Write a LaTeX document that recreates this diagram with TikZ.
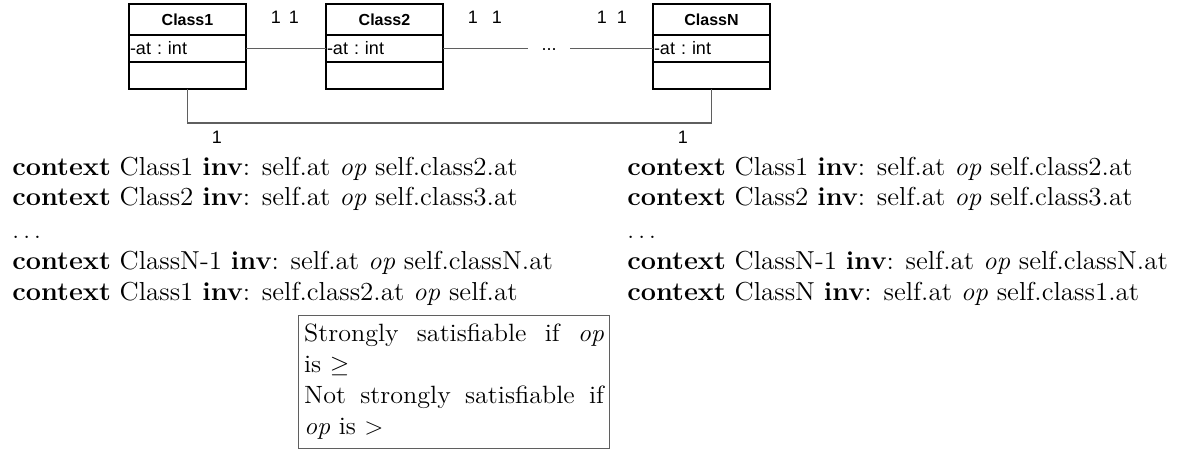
\documentclass[tikz,border=0pt]{standalone}
\usepackage{fontspec}
\newfontfamily\arialf{Liberation Sans}
\newcommand{\wx}[1]{\scalebox{1.04}[1]{#1}}
\newcommand{\wn}[1]{\scalebox{1.045}[1]{#1}}
\definecolor{lgray}{RGB}{95,95,95}
\tikzset{
  umlpart/.style={draw=black, line width=0.6pt, minimum width=58.5pt, inner sep=0pt, anchor=north west, outer sep=0pt},
  hdr/.style={umlpart, minimum height=15.5pt, font=\arialf\fontsize{8}{9.6}\selectfont\bfseries},
  attr/.style={umlpart, minimum height=13.5pt, font=\arialf\frenchspacing\fontsize{9}{10.8}\selectfont, text width=57.5pt, inner xsep=0.5pt, align=left},
  ops/.style={umlpart, minimum height=13.5pt},
  mult/.style={font=\arialf\fontsize{9}{10.8}\selectfont, inner sep=0pt},
  assoc/.style={draw=lgray, line width=0.6pt},
  ocl/.style={anchor=base west, inner sep=0pt, font=\fontsize{13}{15.5}\selectfont},
  notebox/.style={draw=lgray, line width=0.6pt, anchor=north west, minimum width=155.5pt, minimum height=66.5pt, inner xsep=2.75pt, inner ysep=0pt, font=\fontsize{12.5}{15.5}\selectfont},
}
\begin{document}
\begin{tikzpicture}[x=0.5pt, y=-0.5pt]
\useasboundingbox (0,0) rectangle (1191,452);
% classes
\node[hdr] (c1h) at (129,4) {Class1};
\node[attr] (c1a) at (129,35) {-at : int};
\node[ops] (c1o) at (129,62) {};
\node[hdr] (c2h) at (326,4) {Class2};
\node[attr] (c2a) at (326,35) {-at : int};
\node[ops] (c2o) at (326,62) {};
\node[hdr] (cNh) at (653,4) {ClassN};
\node[attr] (cNa) at (653,35) {-at : int};
\node[ops] (cNo) at (653,62) {};
\node[mult, minimum width=21pt] (dots) at (549,50) {...};
% associations
\draw[assoc] (c1a.east) -- (c2a.west);
\draw[assoc] (c2a.east) -- (c2a.east -| dots.west);
\draw[assoc] (cNa.west -| dots.east) -- (cNa.west);
\coordinate (bot) at (400,123);
\draw[assoc] (c1o.south) |- (bot) -| (cNo.south);
% multiplicities
\node[mult] (m1) at (276,17) {1};
\node[mult] (m2) at (294,17) {1};
\node[mult] (m3) at (473,17) {1};
\node[mult] (m4) at (497,17) {1};
\node[mult] (m5) at (602,17) {1};
\node[mult] (m6) at (622,17) {1};
\node[mult] (m7) at (217,137) {1};
\node[mult] (m8) at (683,137) {1};
% OCL left
\node[ocl] (l1) at (12,175) {\wx{\textbf{context} Class1 \textbf{inv}: self.at \emph{op} self.class2.at}};
\node[ocl] (l2) at (12,205) {\wx{\textbf{context} Class2 \textbf{inv}: self.at \emph{op} self.class3.at}};
\node[ocl] (l3) at (12,238) {\wx{$\ldots$}};
\node[ocl] (l4) at (12,269) {\wx{\textbf{context} ClassN-1 \textbf{inv}: self.at \emph{op} self.classN.at}};
\node[ocl] (l5) at (12,300) {\wx{\textbf{context} Class1 \textbf{inv}: self.class2.at \emph{op} self.at}};
% OCL right
\node[ocl] (r1) at (627,175) {\wx{\textbf{context} Class1 \textbf{inv}: self.at \emph{op} self.class2.at}};
\node[ocl] (r2) at (627,205) {\wx{\textbf{context} Class2 \textbf{inv}: self.at \emph{op} self.class3.at}};
\node[ocl] (r3) at (627,238) {\wx{$\ldots$}};
\node[ocl] (r4) at (627,269) {\wx{\textbf{context} ClassN-1 \textbf{inv}: self.at \emph{op} self.classN.at}};
\node[ocl] (r5) at (627,300) {\wx{\textbf{context} ClassN \textbf{inv}: self.at \emph{op} self.class1.at}};
% note
\node[notebox] (note) at (298,315) {\wn{\parbox{143.5pt}{Strongly satisfiable if \emph{op}\linebreak is $\geq$\newline Not strongly satisfiable if\linebreak \emph{op} is $>$}}};
\end{tikzpicture}
\end{document}
